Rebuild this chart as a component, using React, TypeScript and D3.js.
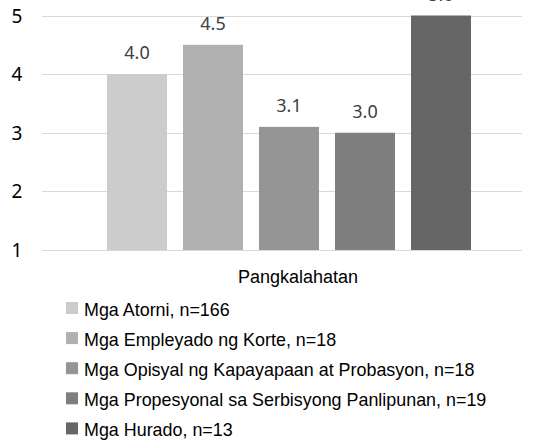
import * as d3 from 'd3';
import React, { useEffect, useRef } from 'react';

// series in legend order
const groups = [
  'Mga Atorni, n=166',
  'Mga Empleyado ng Korte, n=18',
  'Mga Opisyal ng Kapayapaan at Probasyon, n=18',
  'Mga Propesyonal sa Serbisyong Panlipunan, n=19',
  'Mga Hurado, n=13',
];
const scores = [4.0, 4.5, 3.1, 3.0, 5.0];
const shades = ['#cccccc', '#b0b0b0', '#959595', '#7f7f7f', '#666666'];
const category = 'Pangkalahatan';
const yTicks = [1, 2, 3, 4, 5];

const App = () => {
  const ref = useRef<SVGSVGElement | null>(null);

  useEffect(() => {
    if (!ref.current) return;
    const svg = d3.select(ref.current);
    svg.selectAll('*').remove();

    const left = 42, right = 522;

    const y = d3.scaleLinear().domain([1, 5]).range([250, 15.5]);
    // five bars 60px wide, 16px apart
    const x = d3.scaleBand<number>()
      .domain(d3.range(groups.length))
      .range([99, 479])
      .paddingInner(16 / 76)
      .paddingOuter(16 / 76 / 2);

    // gridlines
    svg.append('g')
      .selectAll('line')
      .data(yTicks)
      .join('line')
      .attr('x1', left)
      .attr('x2', right)
      .attr('y1', d => Math.round(y(d)) + 0.5)
      .attr('y2', d => Math.round(y(d)) + 0.5)
      .attr('stroke', '#d9d9d9')
      .attr('stroke-width', 1);

    // y tick labels
    svg.append('g')
      .selectAll('text')
      .data(yTicks)
      .join('text')
      .attr('x', 17)
      .attr('y', d => y(d) + 7)
      .attr('text-anchor', 'middle')
      .attr('font-family', 'Noto Sans, sans-serif')
      .attr('font-size', 19)
      .attr('fill', '#000')
      .text(d => d);

    // bars
    svg.append('g')
      .selectAll('rect')
      .data(scores)
      .join('rect')
      .attr('x', (d, i) => x(i)!)
      .attr('y', d => y(d))
      .attr('width', x.bandwidth())
      .attr('height', d => y(1) - y(d))
      .attr('fill', (d, i) => shades[i]);

    // value labels
    svg.append('g')
      .selectAll('text')
      .data(scores)
      .join('text')
      .attr('x', (d, i) => x(i)! + x.bandwidth() / 2)
      .attr('y', d => y(d) - 15)
      .attr('text-anchor', 'middle')
      .attr('font-family', 'Noto Sans, sans-serif')
      .attr('font-size', 18)
      .attr('fill', '#404040')
      .text(d => d.toFixed(1));

    // category label
    svg.append('text')
      .attr('x', 298)
      .attr('y', 283)
      .attr('text-anchor', 'middle')
      .attr('font-family', 'Liberation Sans, Arial, sans-serif')
      .attr('font-size', 18)
      .attr('fill', '#000')
      .text(category);

    // legend
    const legend = svg.append('g')
      .selectAll('g')
      .data(groups)
      .join('g')
      .attr('transform', (d, i) => `translate(66,${308 + i * 30.1})`);

    legend.append('rect')
      .attr('x', 0)
      .attr('y', -6)
      .attr('width', 12)
      .attr('height', 12)
      .attr('fill', (d, i) => shades[i]);

    legend.append('text')
      .attr('x', 18)
      .attr('y', 7.7)
      .attr('font-family', 'Liberation Sans, Arial, sans-serif')
      .attr('font-size', 17.9)
      .attr('fill', '#000')
      .text(d => d);
  }, []);

  return (
    <div style={{ position: 'absolute', left: 0, top: 0 }}>
      <svg ref={ref} width={538} height={440} style={{ display: 'block', background: '#fff' }} />
    </div>
  );
};

export default App;
